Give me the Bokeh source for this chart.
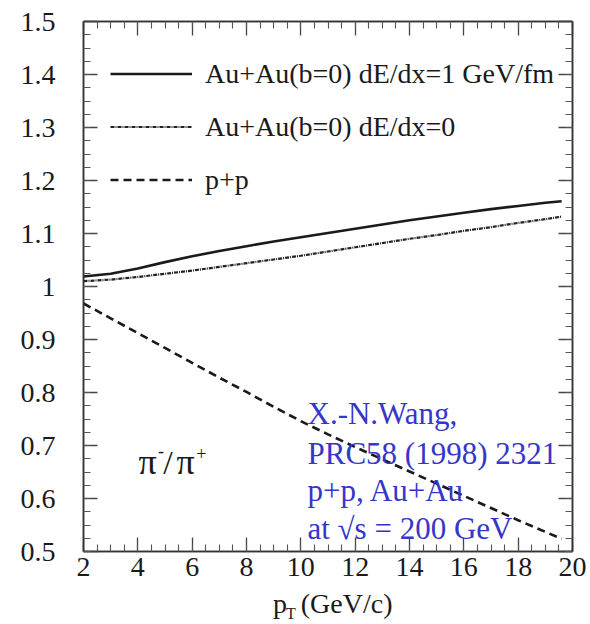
import numpy as np
from bokeh.plotting import figure
from bokeh.models import (Range1d, LinearAxis, FixedTicker, Label, Legend, LegendItem, Div)
from bokeh.layouts import column
from bokeh.embed import file_html
from bokeh.resources import INLINE

# ---- data ----
pt = [2, 3, 4, 5, 6, 7, 8, 9, 10, 11, 12, 13, 14, 15, 16, 17, 18, 19, 19.6]
auau_dedx1 = [1.019, 1.024, 1.034, 1.046, 1.057, 1.067, 1.076, 1.085, 1.093, 1.101,
              1.109, 1.117, 1.125, 1.132, 1.139, 1.146, 1.152, 1.158, 1.161]
auau_dedx0 = [1.010, 1.013, 1.018, 1.024, 1.030, 1.037, 1.044, 1.051, 1.058, 1.066,
              1.074, 1.082, 1.090, 1.097, 1.105, 1.112, 1.120, 1.127, 1.132]
pp = [0.968, 0.940, 0.912, 0.884, 0.856, 0.828, 0.801, 0.773, 0.746, 0.721,
      0.697, 0.674, 0.651, 0.628, 0.605, 0.582, 0.559, 0.537, 0.524]

x_major = [2, 4, 6, 8, 10, 12, 14, 16, 18, 20]
y_major = [0.5, 0.6, 0.7, 0.8, 0.9, 1.0, 1.1, 1.2, 1.3, 1.4, 1.5]
y_labels = ["0.5", "0.6", "0.7", "0.8", "0.9", "1", "1.1", "1.2", "1.3", "1.4", "1.5"]

legend_labels = ["Au+Au(b=0) dE/dx=1 GeV/fm", "Au+Au(b=0) dE/dx=0", "p+p"]
note_lines = ["X.-N.Wang,", "PRC58 (1998) 2321", "p+p, Au+Au", "at \u221as = 200 GeV"]

FONT = "Liberation Serif"
INK = "#1a1a1a"

p = figure(width=590, height=590, output_backend="svg", toolbar_location=None,
           x_range=Range1d(2, 20), y_range=Range1d(0.5, 1.5),
           min_border_left=83, min_border_right=18, min_border_top=21, min_border_bottom=39,
           x_axis_location=None, y_axis_location=None)
p.grid.visible = False
p.outline_line_color = "#333333"
p.outline_line_width = 1.5
p.background_fill_color = "white"
p.border_fill_color = "white"

x_minor = list(np.arange(2, 20.01, 0.5))
y_minor = list(np.arange(0.5, 1.501, 0.025))

def style(ax, labels=True, majors=None):
    ax.axis_line_color = "#333333"
    ax.axis_line_width = 1.5
    ax.major_tick_in = 14
    ax.major_tick_out = 0
    ax.minor_tick_in = 7
    ax.minor_tick_out = 0
    ax.major_tick_line_color = "#444444"
    ax.minor_tick_line_color = "#555555"
    ax.major_tick_line_width = 1.3
    ax.minor_tick_line_width = 1.1
    ax.major_label_text_font = FONT
    if labels:
        ax.major_label_text_font_size = "28px"
        ax.major_label_text_color = INK
    else:
        ax.major_label_text_font_size = "1px"
        ax.major_label_standoff = 0
        ax.major_label_overrides = {v: "" for v in majors}

xb = LinearAxis(ticker=FixedTicker(ticks=x_major, minor_ticks=x_minor))
style(xb)
xb.major_label_standoff = 6
p.add_layout(xb, "below")
xt = LinearAxis(ticker=FixedTicker(ticks=x_major, minor_ticks=x_minor))
style(xt, labels=False, majors=x_major)
p.add_layout(xt, "above")

yl = LinearAxis(ticker=FixedTicker(ticks=y_major, minor_ticks=y_minor))
style(yl)
yl.major_label_standoff = 28
yl.major_label_overrides = {v: s for v, s in zip(y_major, y_labels)}
p.add_layout(yl, "left")
yr = LinearAxis(ticker=FixedTicker(ticks=y_major, minor_ticks=y_minor))
style(yr, labels=False, majors=y_major)
p.add_layout(yr, "right")

r1 = p.line(pt, auau_dedx1, line_color=INK, line_width=2.6)
r2 = p.line(pt, auau_dedx0, line_color="#222222", line_width=2.2, line_dash="4 1 1 1")
r3 = p.line(pt, pp, line_color=INK, line_width=2.6, line_dash="8 5")

legend = Legend(items=[LegendItem(label=legend_labels[0], renderers=[r1]),
                       LegendItem(label=legend_labels[1], renderers=[r2]),
                       LegendItem(label=legend_labels[2], renderers=[r3])],
                location=(27, 345), padding=0, margin=0, spacing=0,
                glyph_width=82, glyph_height=53, label_height=53, label_standoff=13,
                label_text_font=FONT, label_text_font_size="28px", label_text_color=INK,
                border_line_color=None, background_fill_alpha=0)
p.add_layout(legend, "center")

def lab(x, y, t, size, color=INK, **kw):
    p.add_layout(Label(x=x, y=y, text=t, text_font=FONT, text_font_size=size,
                       text_color=color, text_baseline="alphabetic", **kw))

# pi-/pi+ label
lab(4.02, 0.668, "\u03c0", "36px")
lab(4.74, 0.690, "-", "18px")
lab(4.94, 0.668, "/", "34px")
lab(5.42, 0.668, "\u03c0", "36px")
lab(6.15, 0.684, "+", "18px")

# blue note
note_y = [0.760, 0.685, 0.615, 0.5435]
for t, yy in zip(note_lines, note_y):
    lab(10.245, yy, t, "31px", color="#3636c8")

# x axis title p_T (GeV/c)
title = Div(width=590, height=34,
            styles={"margin": "0", "padding": "0"},
            text=('<div style="font-family:\'Liberation Serif\',serif;font-size:28px;'
                  'line-height:28px;color:#1a1a1a;padding-left:273px;white-space:nowrap;">'
                  'p<span style="font-size:16px;position:relative;top:6px;margin-left:-1px;">T</span>'
                  '<span style="margin-left:5px;">(GeV/c)</span></div>'))

layout = column(p, title, spacing=0)
open("out.html", "w").write(file_html(layout, INLINE))
